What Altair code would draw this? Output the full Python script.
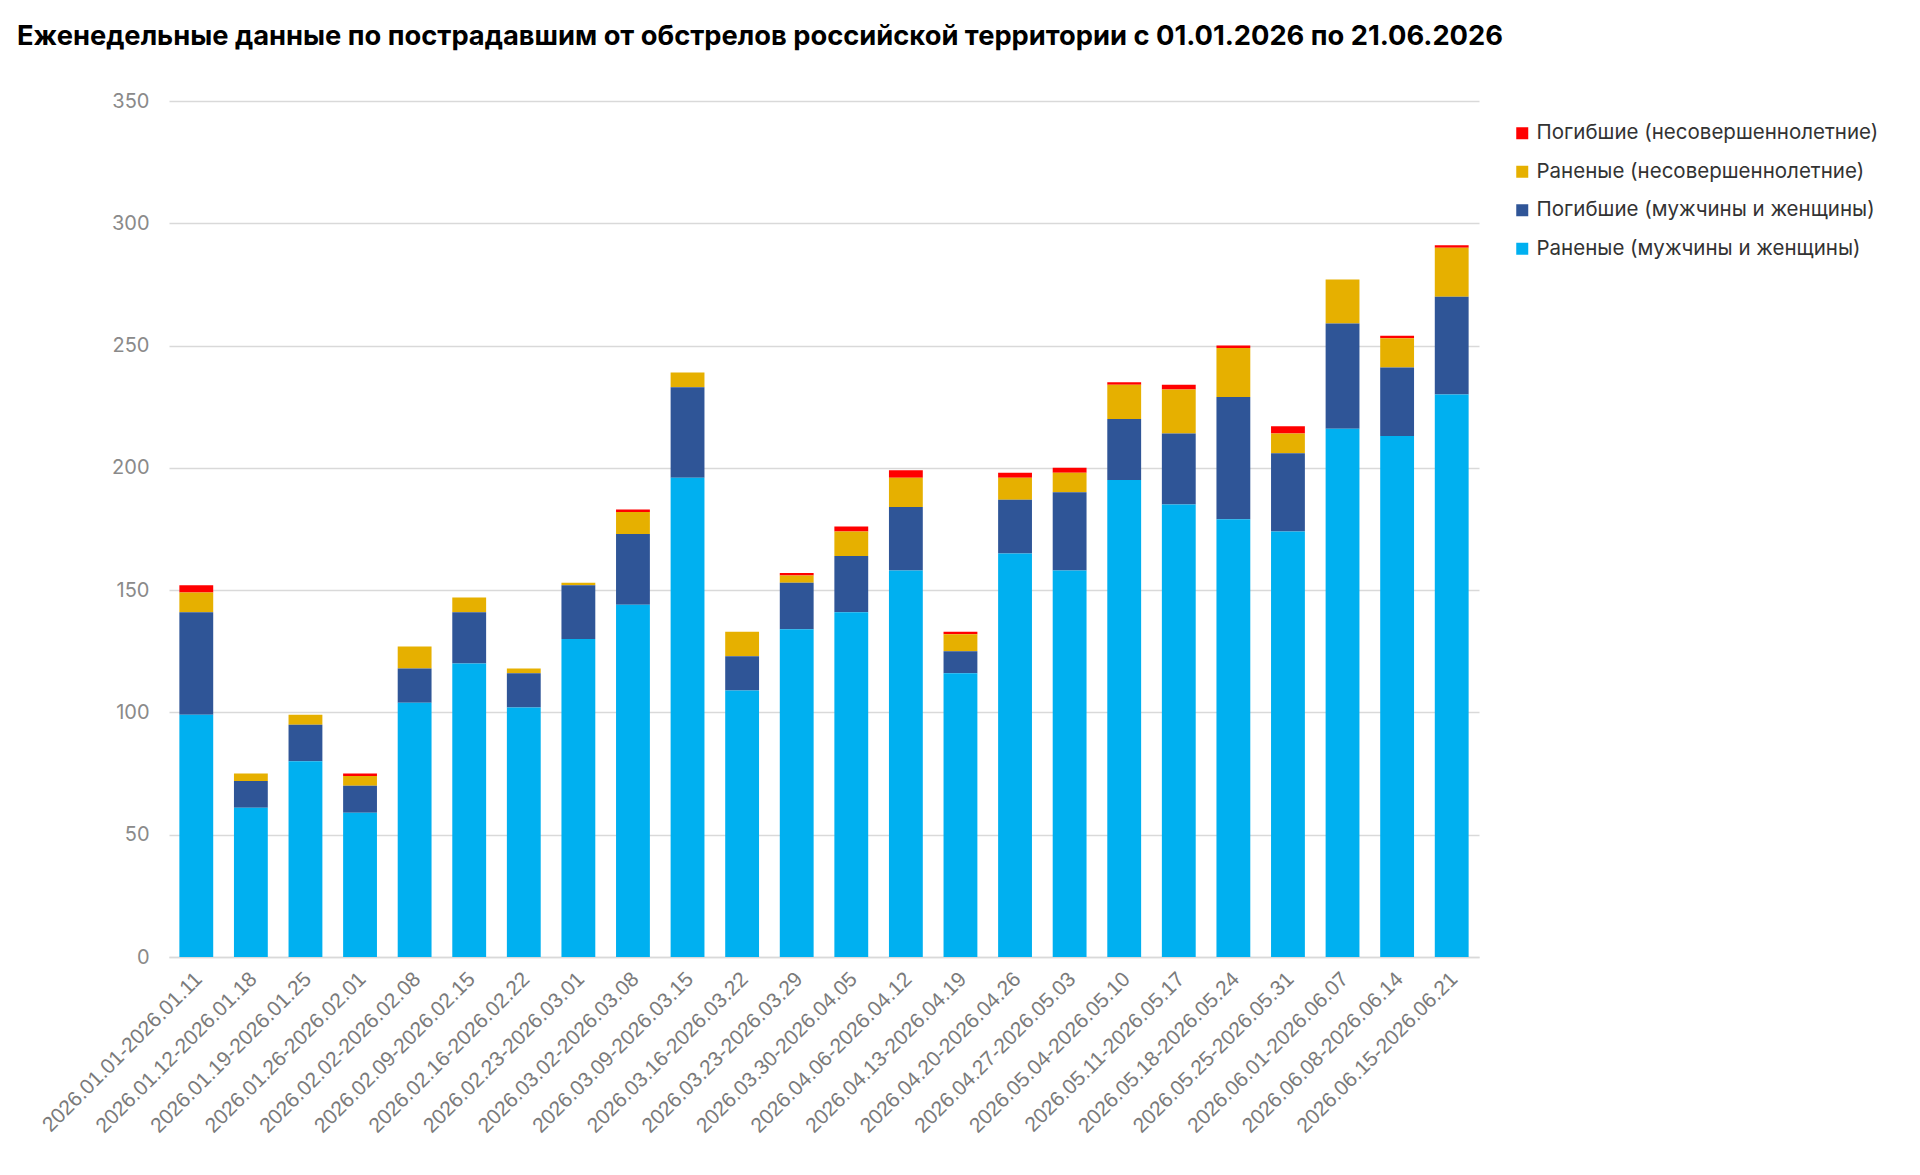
import altair as alt
import pandas as pd

weeks = [
    "2026.01.01-2026.01.11", "2026.01.12-2026.01.18", "2026.01.19-2026.01.25",
    "2026.01.26-2026.02.01", "2026.02.02-2026.02.08", "2026.02.09-2026.02.15",
    "2026.02.16-2026.02.22", "2026.02.23-2026.03.01", "2026.03.02-2026.03.08",
    "2026.03.09-2026.03.15", "2026.03.16-2026.03.22", "2026.03.23-2026.03.29",
    "2026.03.30-2026.04.05", "2026.04.06-2026.04.12", "2026.04.13-2026.04.19",
    "2026.04.20-2026.04.26", "2026.04.27-2026.05.03", "2026.05.04-2026.05.10",
    "2026.05.11-2026.05.17", "2026.05.18-2026.05.24", "2026.05.25-2026.05.31",
    "2026.06.01-2026.06.07", "2026.06.08-2026.06.14", "2026.06.15-2026.06.21",
]

wounded_adults = [99, 61, 80, 59, 104, 120, 102, 130, 144, 196, 109, 134,
                  141, 158, 116, 165, 158, 195, 185, 179, 174, 216, 213, 230]
killed_adults = [42, 11, 15, 11, 14, 21, 14, 22, 29, 37, 14, 19,
                 23, 26, 9, 22, 32, 25, 29, 50, 32, 43, 28, 40]
wounded_minors = [8, 3, 4, 4, 9, 6, 2, 1, 9, 6, 10, 3,
                  10, 12, 7, 9, 8, 14, 18, 20, 8, 18, 12, 20]
killed_minors = [3, 0, 0, 1, 0, 0, 0, 0, 1, 0, 0, 1,
                 2, 3, 1, 2, 2, 1, 2, 1, 3, 0, 1, 1]

series_names = [
    "Погибшие (несовершеннолетние)",
    "Раненые (несовершеннолетние)",
    "Погибшие (мужчины и женщины)",
    "Раненые (мужчины и женщины)",
]
series_colors = ["#FF0000", "#E6B000", "#2F5597", "#00B0F0"]
series_values = [killed_minors, wounded_minors, killed_adults, wounded_adults]
stack_rank = [3, 2, 1, 0]

rows = []
for name, vals, rank in zip(series_names, series_values, stack_rank):
    for w, v in zip(weeks, vals):
        rows.append({"week": w, "series": name, "value": v, "rank": rank})
df = pd.DataFrame(rows)

title_text = ("Еженедельные данные по пострадавшим от обстрелов российской "
              "территории с 01.01.2026 по 21.06.2026")

chart = alt.Chart(df).mark_bar().encode(
    x=alt.X("week:N", sort=weeks, title=None,
            scale=alt.Scale(paddingInner=0.38, paddingOuter=0.19),
            axis=alt.Axis(labelAngle=-45, labelFont="Liberation Sans",
                          labelFontSize=21, labelColor="#7a7a7a",
                          labelPadding=11, labelOffset=-5, labelLimit=500,
                          ticks=False, domain=True, domainColor="#d9d9d9",
                          domainWidth=1.5, labelOverlap=False)),
    y=alt.Y("value:Q", stack="zero", title=None,
            scale=alt.Scale(domain=[0, 350], nice=False),
            axis=alt.Axis(values=[0, 50, 100, 150, 200, 250, 300, 350],
                          labelFont="Inter", labelFontSize=20,
                          labelColor="#8a8a8a", labelPadding=20,
                          ticks=False, domain=False,
                          gridColor="#d9d9d9", gridWidth=1.5)),
    color=alt.Color("series:N",
                    scale=alt.Scale(domain=series_names, range=series_colors),
                    legend=alt.Legend(title=None, orient="none",
                                      legendX=1343, legendY=22,
                                      symbolType="square", symbolSize=144,
                                      symbolStrokeWidth=0,
                                      labelFont="Inter", labelFontSize=20.5,
                                      labelColor="#333333", rowPadding=17.5,
                                      labelOffset=4, labelLimit=500)),
    order=alt.Order("rank:Q", sort="ascending"),
).properties(
    width=1310,
    height=856,
    padding={"left": 9, "top": 14, "right": 5, "bottom": 5},
    title=alt.TitleParams(title_text, anchor="start", frame="group",
                          dx=-152, offset=41, font="Inter", fontSize=27.3,
                          fontWeight="bold", color="#000000"),
).configure(background="white").configure_view(stroke=None, strokeWidth=0)

chart.save("out.html", embed_options={"renderer": "svg", "actions": False})
